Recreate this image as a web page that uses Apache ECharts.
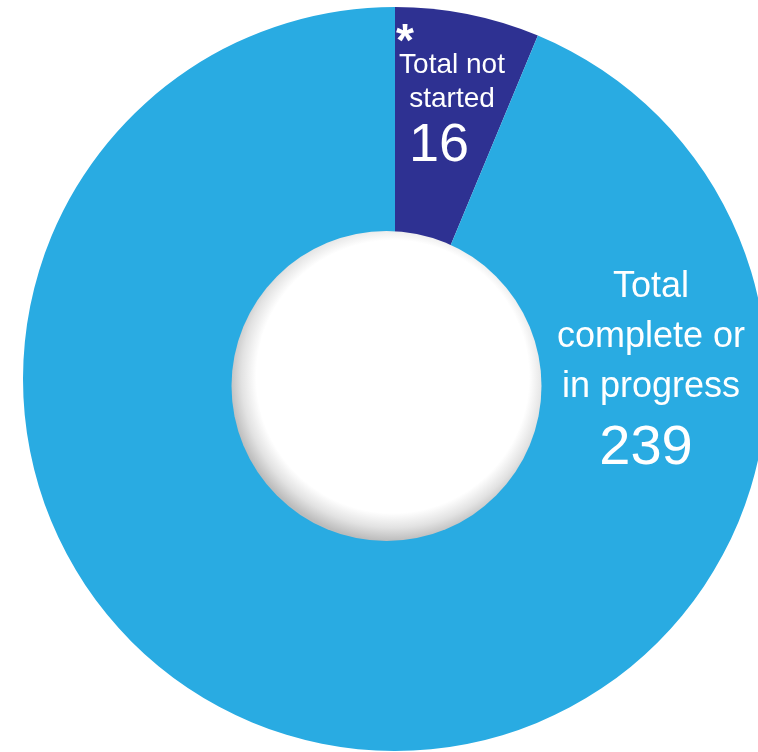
<!DOCTYPE html>
<html>
<head>
<meta charset="utf-8">
<script src="https://cdn.jsdelivr.net/npm/echarts@6/dist/echarts.min.js"></script>
<style>
html,body{margin:0;padding:0;background:#fff;}
#chart{width:758px;height:752px;}
</style>
</head>
<body>
<div id="chart"></div>
<script>
var categories = ['Total not started', 'Total complete or in progress'];
var values = [16, 239];
var colors = ['#2E3192', '#29ABE2'];

var chart = echarts.init(document.getElementById('chart'));
var FONT = '"Liberation Sans", Arial, Helvetica, sans-serif';

var labelPos = [
  {x: 452, y: 99},
  {x: 651, y: 369}
];

var option = {
  animation: false,
  series: [{
    type: 'pie',
    center: [395, 379],
    radius: [0, 372],
    startAngle: 90,
    clockwise: true,
    silent: true,
    labelLine: {show: false},
    label: {
      show: true,
      position: 'inside',
      color: '#fff',
      fontFamily: FONT
    },
    labelLayout: function (p) {
      var pos = labelPos[p.dataIndex];
      return {x: pos.x, y: pos.y, align: 'center', verticalAlign: 'middle'};
    },
    data: [
      {
        name: categories[0], value: values[0],
        itemStyle: {color: colors[0]},
        label: {
          formatter: function (p) { return '{s|*}\n{t|Total not}\n{t|started}\n{v|' + p.value + '}'; },
          rich: {
            s: {fontSize: 46, fontWeight: 'bold', color: '#fff', width: 112, align: 'left', lineHeight: 26, fontFamily: FONT, padding: [16, 0, 0, 0]},
            t: {fontSize: 28, color: '#fff', lineHeight: 34, fontFamily: FONT},
            v: {fontSize: 54, color: '#fff', lineHeight: 60, fontFamily: FONT, padding: [0, 26, 0, 0]}
          }
        }
      },
      {
        name: categories[1], value: values[1],
        itemStyle: {color: colors[1]},
        label: {
          formatter: function (p) { return '{t|Total}\n{t|complete or}\n{t|in progress}\n{v|' + p.value + '}'; },
          rich: {
            t: {fontSize: 36, color: '#fff', lineHeight: 50, fontFamily: FONT},
            v: {fontSize: 56, color: '#fff', lineHeight: 64, fontFamily: FONT, padding: [10, 10, 0, 0]}
          }
        }
      }
    ]
  }],
  graphic: [{
    type: 'circle',
    silent: true,
    shape: {cx: 386.5, cy: 386, r: 155},
    style: {
      fill: new echarts.graphic.RadialGradient(0.52, 0.47, 0.53, [
        {offset: 0, color: '#ffffff'},
        {offset: 0.83, color: '#ffffff'},
        {offset: 0.92, color: '#e2e2e2'},
        {offset: 1, color: '#bcbcbc'}
      ])
    },
    z: 100
  }]
};
chart.setOption(option);
</script>
</body>
</html>
